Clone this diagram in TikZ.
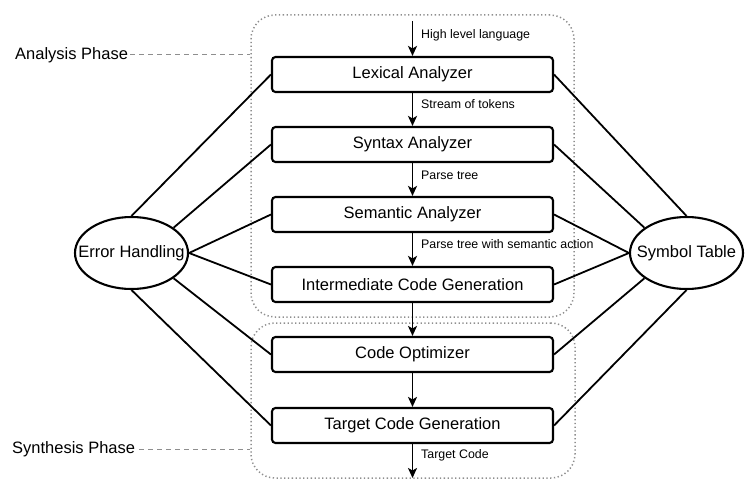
\documentclass[tikz,border=0pt]{standalone}
\usepackage{fontspec}
\setmainfont{Liberation Sans}
\usetikzlibrary{shapes.geometric,arrows.meta}
\definecolor{frame}{HTML}{8E8E8E}
\tikzset{
  stage/.style={draw=black, line width=2.1pt, rounded corners=3.5pt, minimum width=281pt, minimum height=35pt, inner sep=0pt, font=\fontsize{16.5}{20}\selectfont},
  oval/.style={draw=black, line width=2.1pt, ellipse, minimum width=113pt, minimum height=72pt, inner sep=0pt, label={[font=\fontsize{16.5}{20}\selectfont]center:#1}},
  flow/.style={line width=1.9pt, -{Stealth[length=10pt,width=9pt,inset=2.5pt]}},
  link/.style={line width=1.8pt},
  flowlabel/.style={anchor=west, inner sep=0pt, font=\fontsize{12.4}{15}\selectfont},
  phasebox/.style={draw=frame, line width=1.5pt, dash pattern=on 1.3pt off 2.5pt, rounded corners=24pt, inner sep=0pt},
  phaselabel/.style={anchor=west, inner sep=0pt, font=\fontsize{16.5}{20}\selectfont},
  phaseline/.style={draw=frame, line width=1pt, dash pattern=on 5pt off 4pt}
}
\begin{document}
\begin{tikzpicture}[x=1pt,y=-1pt]
\useasboundingbox (0,0) rectangle (755,500);
% phase frames
\node[phasebox, minimum width=323pt, minimum height=302pt] (anabox) at (412.5,166) {};
\node[phasebox, minimum width=324pt, minimum height=155pt] (synbox) at (413,400.5) {};
\node[phaselabel] (analabel) at (15,55) {Analysis Phase};
\node[phaselabel] (synlabel) at (12,449) {Synthesis Phase};
\draw[phaseline] ([xshift=2pt]analabel.east) -- (anabox.west |- analabel.east);
\draw[phaseline] ([xshift=4pt]synlabel.east) -- (synbox.west |- synlabel.east);
% stages
\node[stage] (lex) at (412.5,74.5) {Lexical Analyzer};
\node[stage] (syn) at (412.5,144.5) {Syntax Analyzer};
\node[stage] (sem) at (412.5,214.5) {Semantic Analyzer};
\node[stage] (inter) at (412.5,284.5) {Intermediate Code Generation};
\node[stage] (opt) at (412.5,354.5) {Code Optimizer};
\node[stage] (tgt) at (412.5,425.5) {Target Code Generation};
% ovals
\node[oval=Error Handling] (err) at (131.5,253) {};
\node[oval=Symbol Table] (sym) at (686.5,253) {};
% flow
\coordinate (src) at (412.5,21);
\coordinate (dst) at (412.5,478);
\draw[flow] (src) -- (lex.north);
\draw[flow] (lex.south) -- (syn.north);
\draw[flow] (syn.south) -- (sem.north);
\draw[flow] (sem.south) -- (inter.north);
\draw[flow] (inter.south) -- (opt.north);
\draw[flow] (opt.south) -- (tgt.north);
\draw[flow] (tgt.south) -- (dst);
\node[flowlabel] (l1) at (421,35) {High level language};
\node[flowlabel] (l2) at (421,104) {Stream of tokens};
\node[flowlabel] (l3) at (421,175) {Parse tree};
\node[flowlabel] (l4) at (421,244.5) {Parse tree with semantic action};
\node[flowlabel] (l5) at (421,455) {Target Code};
% links to error handling
\draw[link] (err.north) -- (lex.west);
\draw[link] (err.31) -- (syn.west);
\draw[link] (err.east) -- (sem.west);
\draw[link] (err.east) -- (inter.west);
\draw[link] (err.-31) -- (opt.west);
\draw[link] (err.south) -- (tgt.west);
% links to symbol table
\draw[link] (sym.north) -- (lex.east);
\draw[link] (sym.149) -- (syn.east);
\draw[link] (sym.west) -- (sem.east);
\draw[link] (sym.west) -- (inter.east);
\draw[link] (sym.211) -- (opt.east);
\draw[link] (sym.south) -- (tgt.east);
\end{tikzpicture}
\end{document}
